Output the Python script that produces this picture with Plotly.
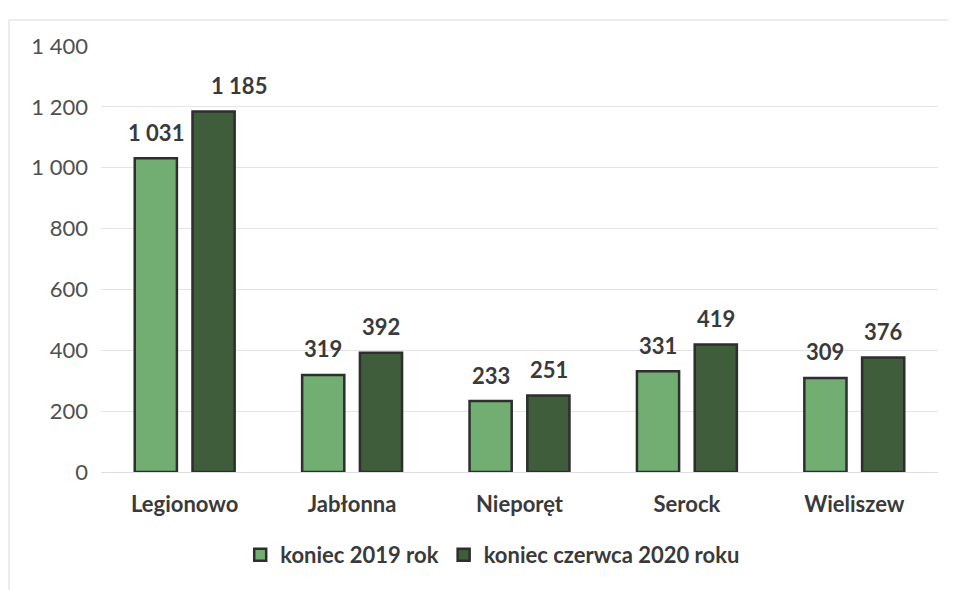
import plotly.graph_objects as go

categories = ["Legionowo", "Jabłonna", "Nieporęt", "Serock", "Wieliszew"]
values_2019 = [1031, 319, 233, 331, 309]
values_2020 = [1185, 392, 251, 419, 376]
series_names = ["koniec 2019 rok", "koniec czerwca 2020 roku"]
tick_vals = [0, 200, 400, 600, 800, 1000, 1200, 1400]

FONT = "Lato"
fig = go.Figure()
series = [(series_names[0], values_2019, "#72ad72", -29),
          (series_names[1], values_2020, "#3f5c3b", 29)]
for name, vals, col, dx in series:
    fig.add_trace(go.Bar(
        x=categories, y=vals, name=name,
        marker=dict(color=col, line=dict(color="#2e2e2e", width=2.5)),
    ))

# data labels (the 1 185 label sits shifted right in the original)
extra_dx = {(0, 1): 25}
for si, (name, vals, col, dx) in enumerate(series):
    for ci, (cat, v) in enumerate(zip(categories, vals)):
        fig.add_annotation(
            x=cat, y=v, xref="x", yref="y",
            text=f"{v:,}".replace(",", " "), showarrow=False,
            xshift=dx + extra_dx.get((ci, si), 0), yshift=26,
            font=dict(family=FONT, size=22, color="#3a3a3a", weight="bold"),
        )

fig.update_layout(
    width=957, height=590,
    margin=dict(l=93, r=27, t=38, b=126, autoexpand=False),
    paper_bgcolor="white", plot_bgcolor="white",
    separators=", ",
    barmode="group", bargap=0.31, bargroupgap=0.27,
    font=dict(family=FONT, color="#595959"),
    legend=dict(orientation="h", x=0.468, xanchor="center", y=-0.195, yanchor="middle",
                font=dict(family=FONT, size=22, color="#3a3a3a", weight="bold"),
                itemwidth=30, traceorder="normal"),
    showlegend=True,
)
fig.update_xaxes(showgrid=False, showline=True, linecolor="#dcdce4", linewidth=1,
                 tickfont=dict(family=FONT, size=22, color="#3a3a3a", weight="bold"),
                 ticks="", ticklabelstandoff=13, automargin=False)
fig.update_yaxes(range=[0, 1400], tickvals=tick_vals, tickformat=",",
                 showgrid=True, gridcolor="#e2e3ec", gridwidth=1,
                 zeroline=False, showline=False,
                 tickfont=dict(family=FONT, size=22, color="#505050"),
                 ticklabelstandoff=12, automargin=False)
# faint scanned frame
fig.add_shape(type="line", xref="paper", yref="paper", x0=-0.110, x1=-0.110, y0=-0.32, y1=1.061,
              line=dict(color="#e6e6ec", width=1.5))
fig.add_shape(type="line", xref="paper", yref="paper", x0=-0.110, x1=1.1, y0=1.061, y1=1.061,
              line=dict(color="#e6e6ec", width=1.5))
fig.write_html("out.html")
